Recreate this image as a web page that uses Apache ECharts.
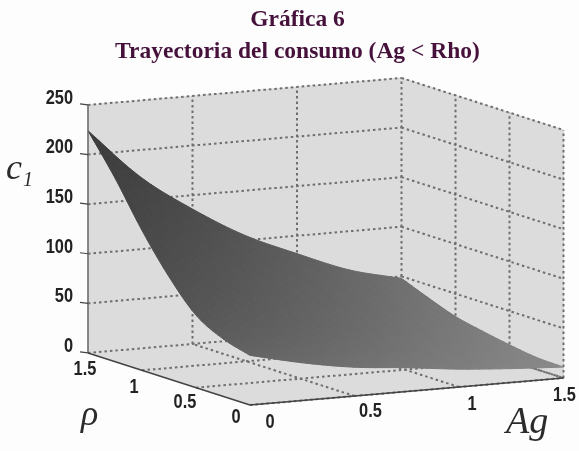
<!DOCTYPE html>
<html>
<head>
<meta charset="utf-8">
<style>
  html, body { margin: 0; padding: 0; background: #fdfdfd; }
  #chart { width: 579px; height: 451px; }
</style>
<script src="https://cdn.jsdelivr.net/npm/echarts@6/dist/echarts.min.js"></script>
</head>
<body>
<div id="chart"></div>
<script>
// values
const agValues = [0, 0.25, 0.5, 0.75, 1, 1.25, 1.5];
const rhoValues = [0, 0.25, 0.5, 0.75, 1, 1.25, 1.5];
// one row per rho, one column per Ag
const consumoRho000 = [50, 38, 29, 24, 18, 14, 11];
const consumoRho025 = [58, 44, 34, 27, 21, 16, 12];
const consumoRho050 = [73, 56, 43, 33, 26, 20, 16];
const consumoRho075 = [103, 76, 58, 44, 32, 26, 21];
const consumoRho100 = [141, 108, 82, 62, 45, 35, 27];
const consumoRho125 = [185, 142, 108, 82, 62, 47, 37];
const consumoRho150 = [224, 173, 136, 105, 82, 61, 48];
const consumoRows = [consumoRho000, consumoRho025, consumoRho050, consumoRho075, consumoRho100, consumoRho125, consumoRho150];

const agTicks = [0, 0.5, 1, 1.5];
const rhoTicks = [0, 0.5, 1, 1.5];
const cTicks = [0, 50, 100, 150, 200, 250];

const agLabelNudge = [[20, 17], [16, 15], [13, 17], [1, 17]];
const rhoLabelNudge = [[-14, 12], [-11, 15], [-8, 17], [-3, 16]];

const AG_MAX = 1.5, RHO_MAX = 1.5, C_MAX = 250;
const TICK_FONT = 'bold 21px "Liberation Sans", sans-serif';

// oblique view of the (Ag, rho, c) box onto the flat grid below
function project(ag, rho, c) {
  return [250 + ag * 209 - rho * 108, 405 - ag * 18 - rho * 34.7 - c * 0.992];
}

function polygon(api, pts, fill) {
  return {
    type: 'polygon',
    shape: { points: pts.map(p => api.coord(project(p[0], p[1], p[2]))) },
    style: { fill: fill, stroke: fill, lineWidth: 1 }
  };
}

function line3d(api, a, b, color, width, dash) {
  let p = api.coord(project(a[0], a[1], a[2]));
  let q = api.coord(project(b[0], b[1], b[2]));
  return {
    type: 'line',
    shape: { x1: p[0], y1: p[1], x2: q[0], y2: q[1] },
    style: { stroke: color, lineWidth: width, lineDash: dash || null }
  };
}

// tick labels in the picture are a narrow bold face, so squeeze them
function textAt(api, pos, dx, dy, str) {
  let p = api.coord(project(pos[0], pos[1], pos[2]));
  return {
    type: 'text',
    x: p[0] + dx,
    y: p[1] + dy,
    scaleX: 0.78,
    style: { text: str, font: TICK_FONT, fill: '#222222', align: 'center', verticalAlign: 'middle' }
  };
}

function drawBox(params, api) {
  let wall = '#dcdcdc';
  let dash = '#6e6e6e';
  let kids = [
    polygon(api, [[0, RHO_MAX, 0], [AG_MAX, RHO_MAX, 0], [AG_MAX, RHO_MAX, C_MAX], [0, RHO_MAX, C_MAX]], wall),
    polygon(api, [[AG_MAX, RHO_MAX, 0], [AG_MAX, 0, 0], [AG_MAX, 0, C_MAX], [AG_MAX, RHO_MAX, C_MAX]], wall),
    polygon(api, [[0, 0, 0], [AG_MAX, 0, 0], [AG_MAX, RHO_MAX, 0], [0, RHO_MAX, 0]], wall)
  ];
  let dots = [2.5, 3];
  cTicks.forEach(c => {
    kids.push(line3d(api, [0, RHO_MAX, c], [AG_MAX, RHO_MAX, c], dash, 2, dots));
    kids.push(line3d(api, [AG_MAX, RHO_MAX, c], [AG_MAX, 0, c], dash, 2, dots));
  });
  agTicks.forEach(a => {
    if (a > 0) {
      kids.push(line3d(api, [a, RHO_MAX, 0], [a, RHO_MAX, C_MAX], dash, 2, dots));
      kids.push(line3d(api, [a, 0, 0], [a, RHO_MAX, 0], dash, 2, dots));
    }
  });
  rhoTicks.forEach(r => {
    if (r < RHO_MAX) {
      kids.push(line3d(api, [AG_MAX, r, 0], [AG_MAX, r, C_MAX], dash, 2, dots));
      kids.push(line3d(api, [0, r, 0], [AG_MAX, r, 0], dash, 2, dots));
    }
  });
  return { type: 'group', children: kids };
}

// grey depends on where the patch faces: dark at the far left, pale at the right
function shade(ag, rho) {
  let a = ag / AG_MAX, r = rho / RHO_MAX;
  let v = Math.round((100 + 38 * a) * (1 - r) + (58 + 54 * a) * r);
  return 'rgb(' + v + ',' + v + ',' + v + ')';
}

function spline(p0, p1, p2, p3, t) {
  return 0.5 * (2 * p1 + (p2 - p0) * t + (2 * p0 - 5 * p1 + 4 * p2 - p3) * t * t + (3 * p1 - p0 - 3 * p2 + p3) * t * t * t);
}

// value at a table node, extended past the edges so the patch ends cleanly
function node(i, j) {
  let ii = Math.min(Math.max(i, 0), consumoRows.length - 1);
  let jj = Math.min(Math.max(j, 0), agValues.length - 1);
  let v = consumoRows[ii][jj];
  if (i !== ii) v = 2 * v - consumoRows[ii + (i < 0 ? 1 : -1)][jj];
  if (j !== jj) v = 2 * v - consumoRows[ii][jj + (j < 0 ? 1 : -1)];
  return v;
}

function smoothC(i, j, u, v) {
  let rows = [-1, 0, 1, 2].map(d =>
    spline(node(i + d, j - 1), node(i + d, j), node(i + d, j + 1), node(i + d, j + 2), u));
  return spline(rows[0], rows[1], rows[2], rows[3], v);
}

function drawSurface(params, api) {
  let kids = [];
  let n = 5;
  for (let i = rhoValues.length - 2; i >= 0; i--) {
    for (let j = 0; j < agValues.length - 1; j++) {
      let da = agValues[j + 1] - agValues[j];
      let dr = rhoValues[i + 1] - rhoValues[i];
      let corner = (x, y) => [agValues[j] + da * x / n, rhoValues[i] + dr * y / n, smoothC(i, j, x / n, y / n)];
      for (let b = n - 1; b >= 0; b--) {
        for (let a = 0; a < n; a++) {
          kids.push(polygon(api, [corner(a, b), corner(a + 1, b), corner(a + 1, b + 1), corner(a, b + 1)],
            shade(agValues[j] + da * (a + 0.5) / n, rhoValues[i] + dr * (b + 0.5) / n)));
        }
      }
    }
  }
  return { type: 'group', children: kids };
}

function drawAxes(params, api) {
  let ink = '#444444';
  let kids = [
    line3d(api, [0, RHO_MAX, 0], [0, RHO_MAX, C_MAX], '#666666', 1.5),
    line3d(api, [0, RHO_MAX, 0], [0, 0, 0], ink, 1.5),
    line3d(api, [0, 0, 0], [AG_MAX, 0, 0], ink, 1.5)
  ];
  cTicks.forEach(c => {
    let p = api.coord(project(0, RHO_MAX, c));
    kids.push({
      type: 'line',
      shape: { x1: p[0] - 8, y1: p[1] - 1, x2: p[0], y2: p[1] },
      style: { stroke: ink, lineWidth: 1.2 }
    });
    let lab = textAt(api, [0, RHO_MAX, c], -15, -7, String(c));
    lab.style.align = 'right';
    kids.push(lab);
  });
  rhoTicks.forEach((r, k) => {
    kids.push(textAt(api, [0, r, 0], rhoLabelNudge[k][0], rhoLabelNudge[k][1], String(r)));
  });
  agTicks.forEach((a, k) => {
    kids.push(textAt(api, [a, 0, 0], agLabelNudge[k][0], agLabelNudge[k][1], String(a)));
  });
  return { type: 'group', children: kids };
}

function drawNames(params, api) {
  let serif = '"Liberation Serif", serif';
  return {
    type: 'group',
    children: [
      { type: 'text', x: 6, y: 170, style: { text: 'c', font: 'italic 36px ' + serif, fill: '#2b2b2b', verticalAlign: 'middle' } },
      { type: 'text', x: 23, y: 181, style: { text: '1', font: 'italic 20px ' + serif, fill: '#2b2b2b', verticalAlign: 'middle' } },
      { type: 'text', x: 81, y: 416, style: { text: 'ρ', font: 'italic 36px ' + serif, fill: '#2b2b2b', verticalAlign: 'middle' } },
      { type: 'text', x: 506, y: 423, style: { text: 'Ag', font: 'italic 38px ' + serif, fill: '#2b2b2b', verticalAlign: 'middle' } }
    ]
  };
}

function layer(fn) {
  return { type: 'custom', coordinateSystem: 'cartesian2d', renderItem: fn, data: [[0, 0]], silent: true, clip: false, animation: false };
}

let chart = echarts.init(document.getElementById('chart'), null, { renderer: 'canvas' });
let titleColor = '#46123c';
let titleFont = { fontFamily: '"Liberation Serif", serif', fontWeight: 'bold', fontSize: 23.5, color: titleColor };
chart.setOption({
  backgroundColor: '#fdfdfd',
  animation: false,
  title: [
    { text: 'Gráfica 6', left: 292.5, top: 3, textAlign: 'center', textStyle: titleFont },
    { text: 'Trayectoria del consumo (Ag < Rho)', left: 292.5, top: 35, textAlign: 'center', textStyle: titleFont }
  ],
  grid: { left: 0, right: 0, top: 0, bottom: 0 },
  xAxis: { type: 'value', min: 0, max: 579, show: false },
  yAxis: { type: 'value', min: 0, max: 451, inverse: true, show: false },
  series: [layer(drawBox), layer(drawSurface), layer(drawAxes), layer(drawNames)]
});
</script>
</body>
</html>
